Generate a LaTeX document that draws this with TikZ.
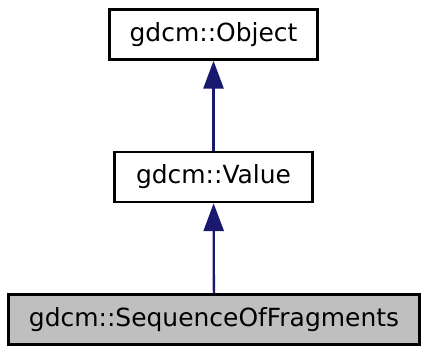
\documentclass[tikz,border=0pt]{standalone}
\usepackage{fontspec}
\setmainfont{DejaVu Sans}
\usepackage{tikz}
\usetikzlibrary{positioning,arrows.meta}
\definecolor{dxNavy}{HTML}{191970}
\definecolor{dxGray}{HTML}{BFBFBF}

\begin{document}
\begin{tikzpicture}[x=0.5pt, y=-0.5pt, font=\fontsize{13}{15}\selectfont,
  cls/.style={draw=black, line width=1.4pt, fill=white, inner sep=0pt, minimum height=26pt},
  inh/.style={draw=dxNavy, line width=1.2pt, -{Triangle[length=14.5pt, width=10.5pt, fill=dxNavy]}}]
\useasboundingbox (0,0) rectangle (446,368);
\node[cls, minimum width=108.5pt] (obj) at (222.5,36) {gdcm::Object};
\node[cls, minimum width=103.5pt] (val) at (222.5,184.5) {gdcm::Value};
\node[cls, fill=dxGray, minimum width=214pt] (sof) at (223,333) {gdcm::SequenceOfFragments};
\draw[inh] (val) -- (obj);
\draw[inh] (sof) -- (val);
\end{tikzpicture}
\end{document}
